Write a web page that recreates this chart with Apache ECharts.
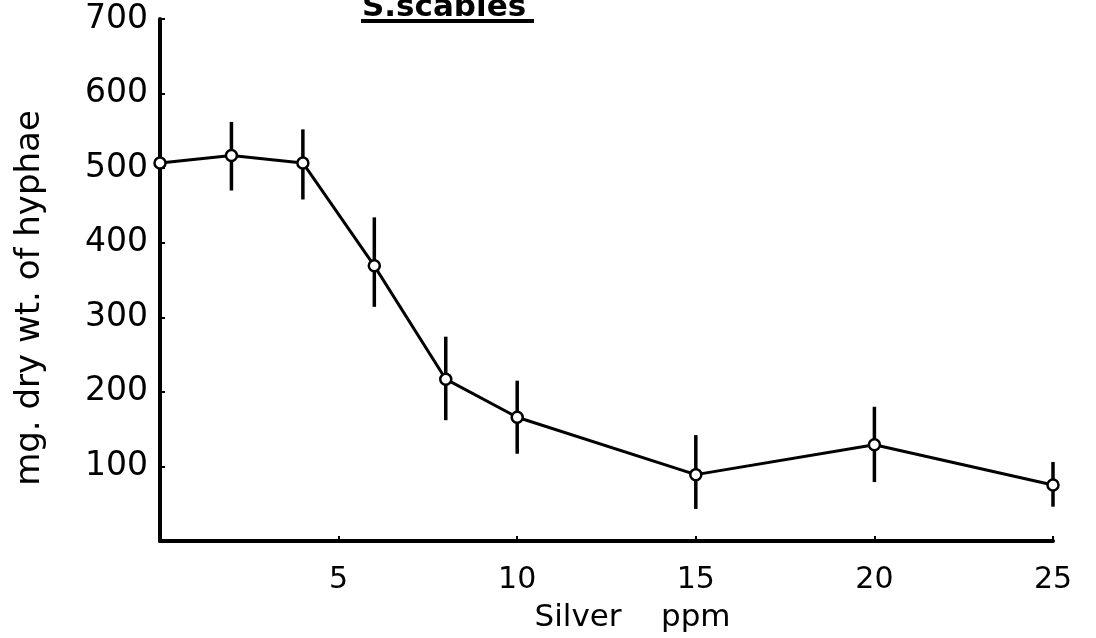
<!DOCTYPE html>
<html>
<head>
<meta charset="utf-8">
<script src="https://cdn.jsdelivr.net/npm/echarts@6/dist/echarts.min.js"></script>
<style>html,body{margin:0;padding:0;background:#fff}#c{width:1096px;height:638px}</style>
</head>
<body>
<div id="c"></div>
<script>
var silverPpm = [0, 2, 4, 6, 8, 10, 15, 20, 25];
var dryWeight = [507, 517, 507, 369, 217, 166, 89, 129, 75];
var errLow    = [458, 470, 458, 314, 162, 117, 43, 79, 46];
var errHigh   = [549, 562, 552, 434, 274, 215, 142, 180, 106];
var xTicks = [5, 10, 15, 20, 25];
var yTicks = [100, 200, 300, 400, 500, 600, 700];

var FONT = 'DejaVu Sans';
var chart = echarts.init(document.getElementById('c'), null, {renderer: 'canvas'});

var lineData = silverPpm.map(function (x, i) { return [x, dryWeight[i]]; });
var errData = silverPpm.map(function (x, i) { return [x, errLow[i], errHigh[i]]; });

chart.setOption({
  animation: false,
  backgroundColor: '#fff',
  grid: {left: 160, right: 43, top: 19, bottom: 97, containLabel: false, outerBoundsMode: 'none'},
  xAxis: {
    type: 'value', min: 0, max: 25, interval: 5,
    axisLine: {show: true, lineStyle: {color: '#000', width: 4}},
    axisTick: {show: true, inside: true, length: 5, lineStyle: {color: '#000', width: 2}},
    splitLine: {show: false},
    axisLabel: {
      color: '#000', fontFamily: FONT, fontSize: 30, margin: 24,
      formatter: function (v) { return xTicks.indexOf(v) >= 0 ? String(v) : ''; }
    },
    name: 'Silver    ppm', nameLocation: 'middle', nameGap: 61,
    nameTextStyle: {color: '#000', fontFamily: FONT, fontSize: 31, padding: [0, 0, 0, 52]}
  },
  yAxis: {
    type: 'value', min: 0, max: 700, interval: 100,
    axisLine: {show: true, lineStyle: {color: '#000', width: 4}},
    axisTick: {show: true, inside: true, length: 5, lineStyle: {color: '#000', width: 2}},
    splitLine: {show: false},
    axisLabel: {
      color: '#000', fontFamily: FONT, fontSize: 33, margin: 12,
      formatter: function (v) { return yTicks.indexOf(v) >= 0 ? String(v) : ''; }
    }
  },
  graphic: [
    {type: 'text', x: 30, y: 298, rotation: Math.PI / 2,
     style: {text: 'mg. dry wt. of hyphae', fill: '#000', font: '34px "DejaVu Sans"',
             textAlign: 'center', textVerticalAlign: 'middle'}},
    {type: 'text', left: 362, top: -8, style: {text: 'S.scabies', fill: '#000', font: 'bold 31px "DejaVu Sans"'}},
    {type: 'line', shape: {x1: 361, y1: 21, x2: 534, y2: 21}, style: {stroke: '#000', lineWidth: 4}}
  ],
  series: [
    {
      type: 'custom',
      renderItem: function (params, api) {
        var x = api.value(0);
        var p1 = api.coord([x, api.value(1)]);
        var p2 = api.coord([x, api.value(2)]);
        return {type: 'line', shape: {x1: p1[0], y1: p1[1], x2: p2[0], y2: p2[1]},
                style: {stroke: '#000', lineWidth: 3.5}};
      },
      data: errData, z: 2
    },
    {
      type: 'line', data: lineData,
      lineStyle: {color: '#000', width: 3},
      symbol: 'circle', symbolSize: 11,
      itemStyle: {color: '#fff', borderColor: '#000', borderWidth: 2.5},
      z: 3
    }
  ]
});
</script>
</body>
</html>
